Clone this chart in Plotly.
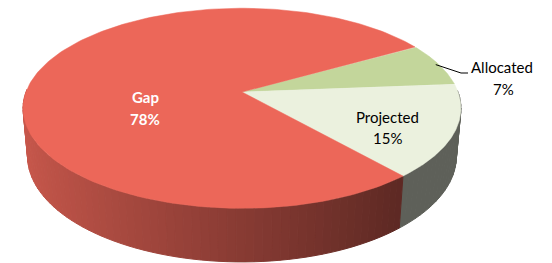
import numpy as np
import plotly.graph_objects as go

# ---- data ----
categories = ["Allocated", "Projected", "Gap"]
values = [7, 15, 78]
start_angle = 30.0  # degrees; slices run clockwise from here

# ---- styling ----
top_colors = {"Allocated": (195, 214, 155), "Projected": (235, 241, 222), "Gap": (236, 103, 89)}
W, Hpx = 552, 263

# 3D perspective parameters (pixel space)
PHI = np.radians(26.8)
S, C = np.sin(PHI), np.cos(PHI)
D = 5.49
F = 1186.0
DEPTH = 0.251
CX, CY = 242.0, 92.0


def proj(theta, r=1.0, y=0.0):
    X = r * np.cos(theta)
    Z = r * np.sin(theta)
    yc = y * C + Z * S
    zc = -y * S + D + Z * C
    return CX + F * X / zc, CY - F * yc / zc


def shade(theta):
    return max(0.575 - 0.28 * np.cos(theta), 0.40)


def rgb(col, k=1.0):
    return "rgb(%d,%d,%d)" % tuple(int(round(v * k)) for v in col)


total = float(sum(values))
slices = []
a = start_angle
for cat, v in zip(categories, values):
    span = 360.0 * v / total
    slices.append((cat, v, a, a - span))
    a -= span

fig = go.Figure()

# side walls (front half), painted far to near
quads = []
for cat, v, a0, a1 in slices:
    n = max(int(abs(a0 - a1) / 2.0), 2)
    ts = np.radians(np.linspace(a0, a1, n + 1))
    for t1, t2 in zip(ts[:-1], ts[1:]):
        tm = 0.5 * (t1 + t2)
        if np.sin(tm) < 0.03:
            quads.append((np.sin(tm), cat, t1, t2, tm))
quads.sort(key=lambda q: -q[0])
for _, cat, t1, t2, tm in quads:
    xa, ya = proj(t1)
    xb, yb = proj(t2)
    xc_, yc_ = proj(t2, y=-DEPTH)
    xd, yd = proj(t1, y=-DEPTH)
    col = rgb(top_colors[cat], shade(tm))
    fig.add_trace(go.Scatter(x=[xa, xb, xc_, xd, xa], y=[ya, yb, yc_, yd, ya], mode="lines",
                             fill="toself", fillcolor=col, line=dict(color=col, width=1),
                             hoverinfo="skip", showlegend=False))

# top faces
for cat, v, a0, a1 in slices:
    ts = np.radians(np.linspace(a0, a1, 200))
    px, py = proj(ts)
    xs = [CX] + list(px) + [CX]
    ys = [CY] + list(py) + [CY]
    col = rgb(top_colors[cat])
    fig.add_trace(go.Scatter(x=xs, y=ys, mode="lines", fill="toself", fillcolor=col,
                             line=dict(color=col, width=0.5), name=cat,
                             hoverinfo="name", showlegend=False))

# leader line for Allocated
alloc = slices[0]
mid = np.radians(0.5 * (alloc[2] + alloc[3]))
lx, ly = proj(mid, r=0.985)
fig.add_trace(go.Scatter(x=[lx, 461, 468], y=[ly, 73, 73], mode="lines",
                         line=dict(color="black", width=1), hoverinfo="skip", showlegend=False))

label_pos = {"Gap": ((145, 97), (145, 119)), "Projected": ((387, 117), (387, 138)),
             "Allocated": ((502, 67), (503, 89))}
for cat, v, a0, a1 in slices:
    (x1, y1), (x2, y2) = label_pos[cat]
    if cat == "Gap":
        fnt = dict(family="Lato", size=15, color="white")
        t1, t2 = "<b>%s</b>" % cat, "<b>%d%%</b>" % v
    else:
        fnt = dict(family="Lato", size=15, color="black")
        t1, t2 = cat, "%d%%" % v
    fig.add_annotation(x=x1, y=y1, text=t1, showarrow=False, font=fnt, xref="x", yref="y")
    fig.add_annotation(x=x2, y=y2, text=t2, showarrow=False, font=fnt, xref="x", yref="y")

fig.update_layout(width=W, height=Hpx, margin=dict(l=0, r=0, t=0, b=0),
                  paper_bgcolor="white", plot_bgcolor="white",
                  xaxis=dict(range=[0, W], visible=False, fixedrange=True),
                  yaxis=dict(range=[Hpx, 0], visible=False, fixedrange=True))
fig.write_html("out.html", config={"displayModeBar": False},
               post_script="document.body.style.margin='0px';document.body.style.overflow='hidden';")
